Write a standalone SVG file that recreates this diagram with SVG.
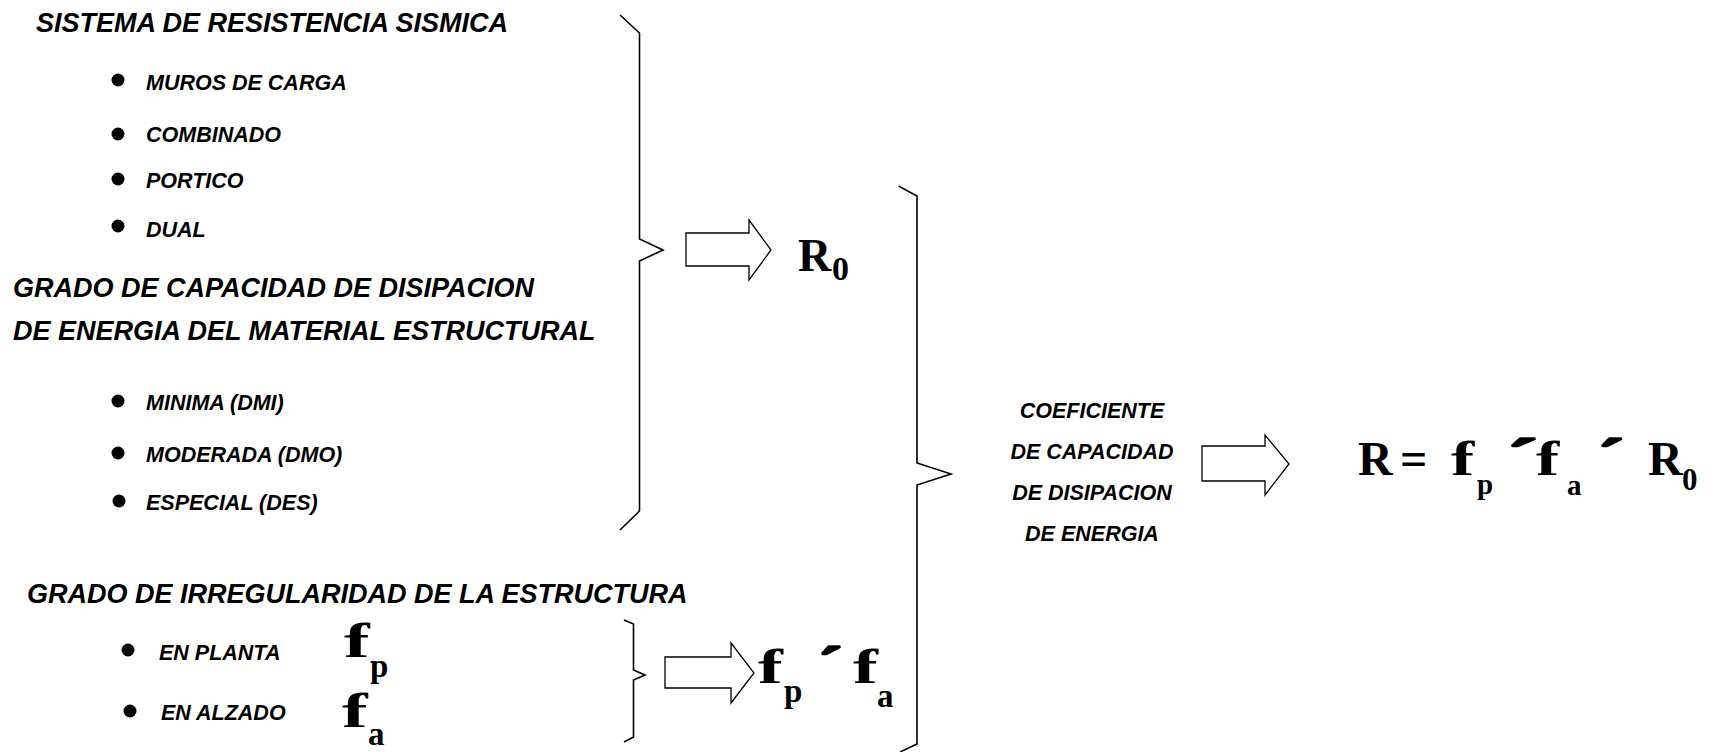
<svg xmlns="http://www.w3.org/2000/svg" width="1719" height="752" viewBox="0 0 1719 752">
<defs>
<style>
.h{font-family:"Liberation Sans",Arial,sans-serif;font-weight:bold;font-style:italic;font-size:27px;fill:#000}
.i{font-family:"Liberation Sans",Arial,sans-serif;font-weight:bold;font-style:italic;font-size:21.5px;fill:#000}
.m{font-family:"Liberation Serif","Times New Roman",serif;font-weight:bold;fill:#000}
.big{font-size:48px}
.sub{font-size:33px}
.x{font-size:48px;stroke:#000;stroke-width:2.4;stroke-linejoin:round}
.br{fill:none;stroke:#000;stroke-width:1.6;stroke-linejoin:miter}
.ar{fill:#fff;stroke:#000;stroke-width:1.3}
</style>
</defs>
<rect width="1719" height="752" fill="#fff"/>

<g id="sistema">
<text class="h" x="36" y="32">SISTEMA DE RESISTENCIA SISMICA</text>
<circle cx="118" cy="80" r="6.5"/><text class="i" x="146" y="89.5">MUROS DE CARGA</text>
<circle cx="118" cy="134" r="6.5"/><text class="i" x="146" y="141.5">COMBINADO</text>
<circle cx="118" cy="179" r="6.5"/><text class="i" x="146" y="187.5">PORTICO</text>
<circle cx="118" cy="226" r="6.5"/><text class="i" x="146" y="237">DUAL</text>
</g>

<g id="grado-capacidad">
<text class="h" x="13" y="297">GRADO DE CAPACIDAD DE DISIPACION</text>
<text class="h" x="13" y="340">DE ENERGIA DEL MATERIAL ESTRUCTURAL</text>
<circle cx="118" cy="401" r="6.5"/><text class="i" x="146" y="410">MINIMA (DMI)</text>
<circle cx="118" cy="453" r="6.5"/><text class="i" x="146" y="461.5">MODERADA (DMO)</text>
<circle cx="119" cy="501" r="6.5"/><text class="i" x="146" y="510">ESPECIAL (DES)</text>
</g>

<g id="grado-irregularidad">
<text class="h" x="27" y="603">GRADO DE IRREGULARIDAD DE LA ESTRUCTURA</text>
<circle cx="128" cy="650" r="6.5"/><text class="i" x="159" y="660">EN PLANTA</text>
<circle cx="130" cy="711" r="6.5"/><text class="i" x="161" y="720">EN ALZADO</text>
<text class="m big" transform="translate(344,657) scale(1.6,1)">f</text>
<text class="m sub" x="370" y="677">p</text>
<text class="m big" transform="translate(342,727) scale(1.6,1)">f</text>
<text class="m sub" x="368" y="745">a</text>
</g>

<g id="r0">
<text class="m" x="798" y="271" font-size="46">R</text>
<text class="m" x="832" y="280" font-size="34">0</text>
</g>

<g id="fp-fa">
<text class="m big" transform="translate(758,683) scale(1.55,1)">f</text>
<text class="m sub" x="784" y="702">p</text>
<text class="m x" transform="translate(818,681) scale(1.5,1)">´</text>
<text class="m big" transform="translate(853,683) scale(1.55,1)">f</text>
<text class="m sub" x="877" y="707">a</text>
</g>

<g id="coeficiente">
<text class="i" x="1092" y="418" text-anchor="middle" font-size="21.33">COEFICIENTE</text>
<text class="i" x="1092" y="459" text-anchor="middle" font-size="21.33">DE CAPACIDAD</text>
<text class="i" x="1092" y="500" text-anchor="middle" font-size="21.33">DE DISIPACION</text>
<text class="i" x="1092" y="541" text-anchor="middle" font-size="21.33">DE ENERGIA</text>
</g>

<g id="formula">
<text class="m big" x="1358" y="475">R</text>
<text class="m big" x="1400" y="475">=</text>
<text class="m big" transform="translate(1451,475) scale(1.45,1)">f</text>
<text class="m" x="1477" y="494" font-size="29">p</text>
<text class="m x" transform="translate(1507,473) scale(1.9,1)">´</text>
<text class="m big" transform="translate(1536,475) scale(1.45,1)">f</text>
<text class="m" x="1567" y="495" font-size="29">a</text>
<text class="m x" transform="translate(1598,473) scale(1.6,1)">´</text>
<text class="m big" x="1648" y="475">R</text>
<text class="m" x="1682" y="490" font-size="31">0</text>
</g>

<g id="connectors">
<path class="br" d="M620,15 L639.5,33 L639.5,239 L663,250 L639.5,261 L639.5,511 L620,530"/>
<path class="br" d="M898.5,186 L917,196 L917,463 L951,474 L917,485 L917,744 L900,752" stroke-width="2"/>
<path class="br" d="M624,620 L633.5,624 L633.5,670 L645,675 L633.5,680 L633.5,737 L624,742"/>
<polygon class="ar" points="686,233 749,233 749,220 771,250 749,280 749,266 686,266"/>
<polygon class="ar" points="665,657 731,657 731,643 754,673 731,703 731,688 665,688"/>
<polygon class="ar" points="1202,446 1265,446 1265,435 1289,464 1265,495 1265,481 1202,481"/>
</g>
</svg>
